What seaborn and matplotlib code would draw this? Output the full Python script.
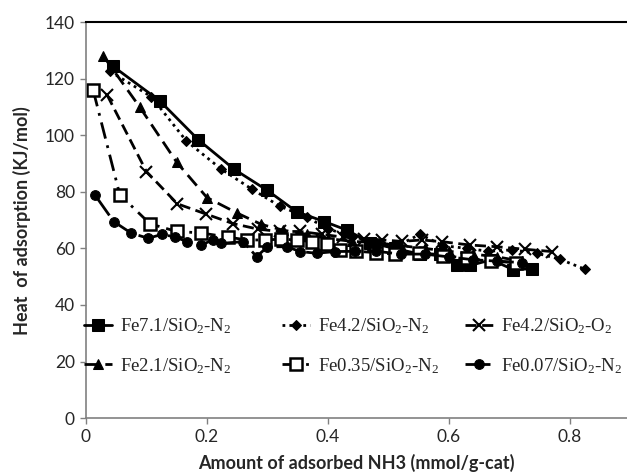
import numpy as np
import pandas as pd
import matplotlib
matplotlib.use("Agg")
import matplotlib.pyplot as plt
import seaborn as sns

# valores
fe71_x = [0.045, 0.122, 0.186, 0.245, 0.30, 0.348, 0.394, 0.431, 0.47, 0.51, 0.552, 0.585, 0.613, 0.635, 0.67, 0.706, 0.737]
fe71_y = [124.4, 112.2, 98.4, 88, 80.5, 73, 69.5, 66.5, 62, 60, 58, 58, 54, 54, 56, 52.5, 52.8]

fe42n_x = [0.04, 0.108, 0.166, 0.224, 0.274, 0.32, 0.365, 0.40, 0.44, 0.48, 0.515, 0.552, 0.59, 0.63, 0.665, 0.704, 0.745, 0.783, 0.825]
fe42n_y = [122.6, 113.7, 98, 88, 81, 75, 71, 67, 64, 62, 61, 65, 61, 60, 59, 59.5, 58.3, 56.2, 52.6]

fe42o_x = [0.035, 0.10, 0.151, 0.198, 0.243, 0.285, 0.32, 0.354, 0.39, 0.425, 0.46, 0.49, 0.522, 0.555, 0.588, 0.635, 0.679, 0.726, 0.77]
fe42o_y = [114.3, 87.2, 75.8, 72.2, 68.8, 66.8, 66, 66, 65, 64, 63.5, 63, 62.5, 63, 62.4, 61.2, 60.6, 59.7, 58.9]

fe21_x = [0.029, 0.089, 0.15, 0.2, 0.25, 0.29, 0.325, 0.365, 0.40, 0.44, 0.48, 0.52, 0.56, 0.6, 0.64, 0.68, 0.72]
fe21_y = [128, 110, 90.5, 78, 72.5, 68.5, 66.5, 65, 63.5, 62.5, 62, 61, 60, 59, 58, 57, 55.5]

fe035_x = [0.012, 0.056, 0.106, 0.15, 0.19, 0.235, 0.266, 0.296, 0.323, 0.348, 0.373, 0.398, 0.42, 0.447, 0.48, 0.51, 0.55, 0.59, 0.63, 0.67, 0.71]
fe035_y = [116, 79, 68.7, 66, 65.5, 64, 63, 63, 63.3, 63, 62.4, 61.5, 59.5, 59, 58.5, 58, 58.5, 57.5, 56.5, 55.5, 55]

fe007_x = [0.015, 0.046, 0.075, 0.103, 0.126, 0.148, 0.167, 0.19, 0.21, 0.224, 0.26, 0.282, 0.30, 0.332, 0.354, 0.381, 0.412, 0.445, 0.48, 0.52, 0.56, 0.6, 0.64, 0.68, 0.72]
fe007_y = [78.9, 69.5, 65.4, 63.6, 65, 64, 62.4, 61.2, 63, 61.8, 62.4, 57.1, 60.6, 60.6, 58.9, 58.3, 58.9, 59, 59, 58, 58, 57, 56, 55.5, 55]

etiquetas = [
    "Fe7.1/SiO$_2$-N$_2$",
    "Fe4.2/SiO$_2$-N$_2$",
    "Fe4.2/SiO$_2$-O$_2$",
    "Fe2.1/SiO$_2$-N$_2$",
    "Fe0.35/SiO$_2$-N$_2$",
    "Fe0.07/SiO$_2$-N$_2$",
]

def main():
    sns.set_style("white")
    plt.rcParams["mathtext.fontset"] = "custom"
    plt.rcParams["mathtext.rm"] = "Liberation Serif"
    plt.rcParams["mathtext.it"] = "Liberation Serif"
    plt.rcParams["font.family"] = ["Lato", "DejaVu Sans"]

    fig = plt.figure(figsize=(6.27, 4.74), dpi=100)
    ax = fig.add_axes([0.137, 0.118, 0.863, 0.835])

    series = [
        (fe71_x, fe71_y, dict(marker="s", markersize=8, linestyle="-", linewidth=2)),
        (fe42n_x, fe42n_y, dict(marker="D", markersize=5.5, linestyle=(0, (1, 1.5)), linewidth=2)),
        (fe42o_x, fe42o_y, dict(marker="x", markersize=9, markeredgewidth=1.5, linestyle=(0, (4, 2)), linewidth=2)),
        (fe21_x, fe21_y, dict(marker="^", markersize=7, linestyle=(0, (5, 2.5)), linewidth=2)),
        (fe035_x, fe035_y, dict(marker="s", markersize=8, markerfacecolor="white", markeredgewidth=1.8,
                                linestyle=(0, (6, 2.5, 1, 2.5)), linewidth=2)),
        (fe007_x, fe007_y, dict(marker="o", markersize=7, linestyle=(0, (9, 2)), linewidth=2)),
    ]

    lineas = []
    for (xs, ys, estilo), nombre in zip(series, etiquetas):
        df = pd.DataFrame({"x": xs, "y": ys})
        sns.lineplot(data=df, x="x", y="y", ax=ax, color="black", estimator=None,
                     sort=False, markeredgecolor="black", label=nombre, **estilo)
        lineas.append(ax.get_lines()[-1])

    if ax.get_legend() is not None:
        ax.get_legend().remove()

    # tres columnas de leyenda de ancho fijo, como en Excel
    ancho_px = 0.863 * 627
    columnas = [([0, 3], 84), ([1, 4], 282), ([2, 5], 465)]
    for k, (idx, px) in enumerate(columnas):
        leg = ax.legend([lineas[i] for i in idx], [etiquetas[i] for i in idx],
                        loc="lower left", bbox_to_anchor=((px - 86) / ancho_px, 0.107),
                        frameon=False, handlelength=1.5, handletextpad=0.4,
                        labelspacing=1.05, borderaxespad=0.0, borderpad=0.0,
                        prop={"family": "Liberation Serif", "size": 13.5})
        if k < len(columnas) - 1:
            ax.add_artist(leg)

    ax.set_xlim(0, 0.894)
    ax.set_ylim(0, 140)
    ax.set_xticks([0, 0.2, 0.4, 0.6, 0.8])
    ax.set_xticklabels(["0", "0.2", "0.4", "0.6", "0.8"])
    ax.set_yticks(range(0, 141, 20))

    for lado in ["left", "bottom"]:
        ax.spines[lado].set_color("#808080")
        ax.spines[lado].set_linewidth(1.2)
    ax.spines["right"].set_visible(False)
    ax.spines["top"].set_color("black")
    ax.spines["top"].set_linewidth(1.5)

    ax.tick_params(axis="both", which="major", direction="out", length=4, width=1,
                   color="#808080", labelsize=12.5, pad=4, left=True, bottom=True)

    ax.set_xlabel("Amount of adsorbed NH3 (mmol/g-cat)", fontsize=13, fontweight="bold", labelpad=6)
    ax.set_ylabel("Heat  of adsorption (KJ/mol)", fontsize=13, fontweight="bold", labelpad=10)

    fig.savefig("out.png", dpi=100)

if __name__ == "__main__":
    main()
